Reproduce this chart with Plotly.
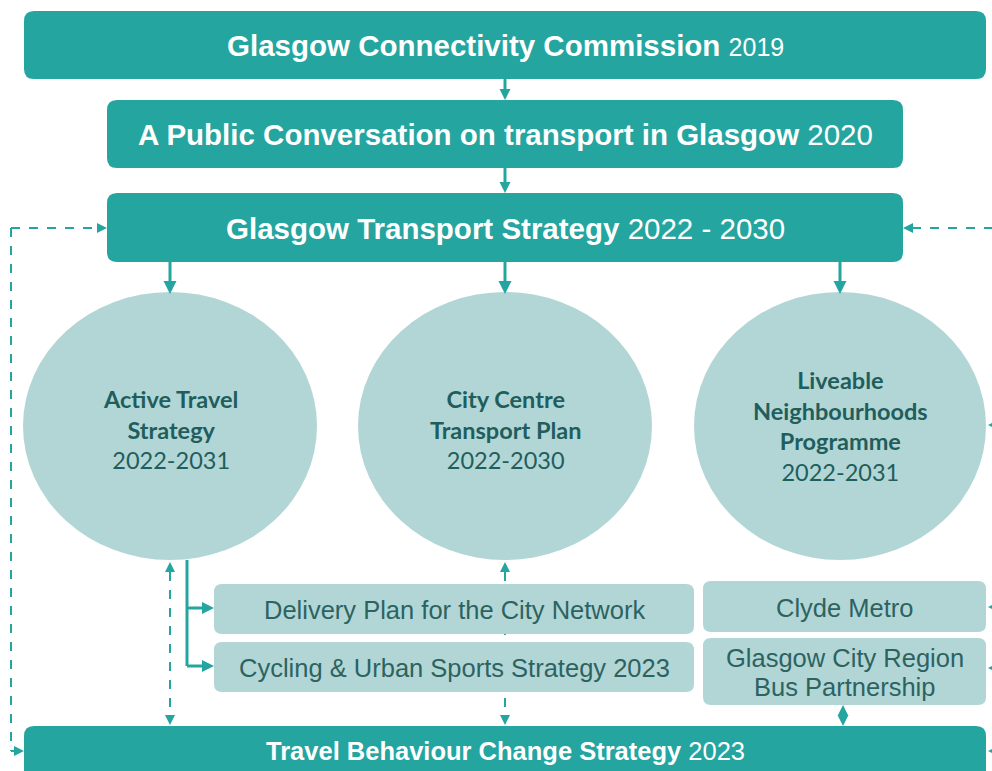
import plotly.graph_objects as go

# ---------------- content ----------------
main_titles = ["Glasgow Connectivity Commission",
               "A Public Conversation on transport in Glasgow",
               "Glasgow Transport Strategy",
               "Travel Behaviour Change Strategy"]
main_years = ["2019", "2020", "2022 - 2030", "2023"]

circle_titles = [["Active Travel", "Strategy"],
                 ["City Centre", "Transport Plan"],
                 ["Liveable", "Neighbourhoods", "Programme"]]
circle_years = ["2022-2031", "2022-2030", "2022-2031"]

sub_labels = ["Delivery Plan for the City Network",
              "Cycling & Urban Sports Strategy 2023",
              "Clyde Metro",
              "Glasgow City Region<br>Bus Partnership"]

# ---------------- layout geometry (pixels) ----------------
W, H = 992, 771
TEAL = "#24A59F"
LIGHT = "#B2D6D6"
DARK = "#1F5E5C"
SUBTXT = "#2C6361"

main_boxes = [(24, 11, 986, 79), (107, 100, 903, 168), (107, 193, 903, 262), (24, 726, 986, 800)]
main_text_y = [45, 134, 228, 751]
main_fonts = [(29.5, 25), (29.5, 29.5), (29.5, 29.5), (25.5, 25.5)]

circles = [(23, 292, 317, 560), (358, 292, 652, 560), (694, 292, 986, 560)]
circle_text_y = [429, 429, 426]

sub_boxes = [(214, 584, 694, 634), (214, 642, 694, 692), (703, 581, 986, 632), (703, 638, 986, 705)]
SUB_LINE_GAP = 29

shapes = []
annotations = []


def rrect(x0, y0, x1, y1, r, color):
    p = (f"M{x0+r},{y0} L{x1-r},{y0} Q{x1},{y0} {x1},{y0+r} L{x1},{y1-r} Q{x1},{y1} {x1-r},{y1} "
         f"L{x0+r},{y1} Q{x0},{y1} {x0},{y1-r} L{x0},{y0+r} Q{x0},{y0} {x0+r},{y0} Z")
    return dict(type="path", path=p, xref="x", yref="y", fillcolor=color, line=dict(width=0), layer="above")


def line(x0, y0, x1, y1, width=3, dash="solid"):
    return dict(type="line", x0=x0, y0=y0, x1=x1, y1=y1, xref="x", yref="y",
                line=dict(color=TEAL, width=width, dash=dash), layer="above")


def head(x, y, direction, size=11):
    # triangle arrowhead with tip at (x, y)
    h = size / 2
    if direction == "down":
        pts = [(x, y), (x - h, y - size), (x + h, y - size)]
    elif direction == "up":
        pts = [(x, y), (x - h, y + size), (x + h, y + size)]
    elif direction == "right":
        pts = [(x, y), (x - size, y - h), (x - size, y + h)]
    else:
        pts = [(x, y), (x + size, y - h), (x + size, y + h)]
    p = "M" + " L".join(f"{a},{b}" for a, b in pts) + " Z"
    return dict(type="path", path=p, xref="x", yref="y", fillcolor=TEAL, line=dict(width=0), layer="above")


# dashed connectors (drawn first, so boxes cover them)
shapes.append(line(505, 572, 505, 716, width=2, dash="dash"))
shapes.append(head(505, 562, "up", 10))
shapes.append(head(505, 725, "down", 10))
shapes.append(line(170, 572, 170, 716, width=2, dash="dash"))
shapes.append(head(170, 562, "up", 10))
shapes.append(head(170, 725, "down", 10))

# left feedback loop
shapes.append(line(11, 228, 98, 228, width=2, dash="dash"))
shapes.append(line(11, 228, 11, 751, width=2, dash="dash"))
shapes.append(line(11, 751, 16, 751, width=2, dash="dash"))
shapes.append(head(107, 228, "right", 10))
shapes.append(head(24, 751, "right", 10))

# right feedback lines (off-canvas)
shapes.append(line(912, 228, 1000, 228, width=2, dash="dash"))
shapes.append(head(903, 228, "left", 10))
for yy in [425, 607, 668, 751]:
    shapes.append(head(988, yy, "left", 10))

# main boxes
for (x0, y0, x1, y1) in main_boxes:
    shapes.append(rrect(x0, y0, x1, y1, 10, TEAL))

# ellipses
for (x0, y0, x1, y1) in circles:
    shapes.append(dict(type="circle", x0=x0, y0=y0, x1=x1, y1=y1, xref="x", yref="y",
                       fillcolor=LIGHT, line=dict(width=0), layer="above"))

# sub boxes
for (x0, y0, x1, y1) in sub_boxes:
    shapes.append(rrect(x0, y0, x1, y1, 8, LIGHT))

# solid arrows between main boxes
shapes.append(line(505, 79, 505, 90))
shapes.append(head(505, 100, "down", 11))
shapes.append(line(505, 168, 505, 183))
shapes.append(head(505, 193, "down", 11))
for cx in [170, 505, 840]:
    shapes.append(line(cx, 262, cx, 282))
    shapes.append(head(cx, 294, "down", 13))

# active travel branch
shapes.append(line(187, 560, 187, 666))
shapes.append(line(187, 608, 203, 608))
shapes.append(head(214, 608, "right", 12))
shapes.append(line(187, 666, 203, 666))
shapes.append(head(214, 666, "right", 12))

# bus partnership <-> behaviour change diamond
shapes.append(head(843, 705, "up", 10))
shapes.append(head(843, 726, "down", 11))

# ---------------- text ----------------
for i, (t, yr) in enumerate(zip(main_titles, main_years)):
    fb, fr = main_fonts[i]
    annotations.append(dict(
        x=505, y=main_text_y[i], xref="x", yref="y", showarrow=False,
        text=f"<b>{t}</b> <span style='font-size:{fr}px'>{yr}</span>",
        font=dict(family="Liberation Sans, Arial", size=fb, color="white"),
        xanchor="center", yanchor="middle"))

for (x0, y0, x1, y1), lines, yr, ty in zip(circles, circle_titles, circle_years, circle_text_y):
    txt = "<br>".join(f"<b>{l}</b>" for l in lines) + "<br>" + yr
    annotations.append(dict(
        x=(x0 + x1) / 2, y=ty, xref="x", yref="y", showarrow=False, text=txt,
        font=dict(family="Lato, Carlito, Calibri", size=23.5, color=DARK),
        xanchor="center", yanchor="middle", align="center"))

for (x0, y0, x1, y1), lab in zip(sub_boxes, sub_labels):
    parts = lab.split("<br>")
    cy = (y0 + y1) / 2 + 1
    start = cy - SUB_LINE_GAP * (len(parts) - 1) / 2
    for k, part in enumerate(parts):
        annotations.append(dict(
            x=(x0 + x1) / 2, y=start + k * SUB_LINE_GAP, xref="x", yref="y", showarrow=False,
            text=part,
            font=dict(family="Liberation Sans, Arial", size=25.5, color=SUBTXT),
            xanchor="center", yanchor="middle", align="center"))

fig = go.Figure()
fig.update_layout(
    width=W, height=H, margin=dict(l=0, r=0, t=0, b=0),
    paper_bgcolor="white", plot_bgcolor="white",
    xaxis=dict(range=[0, W], visible=False, fixedrange=True),
    yaxis=dict(range=[H, 0], visible=False, fixedrange=True),
    shapes=shapes, annotations=annotations, showlegend=False)

fig.write_html("out.html", config={"displayModeBar": False},
               post_script="document.body.style.margin='0';document.body.style.overflow='hidden';")
